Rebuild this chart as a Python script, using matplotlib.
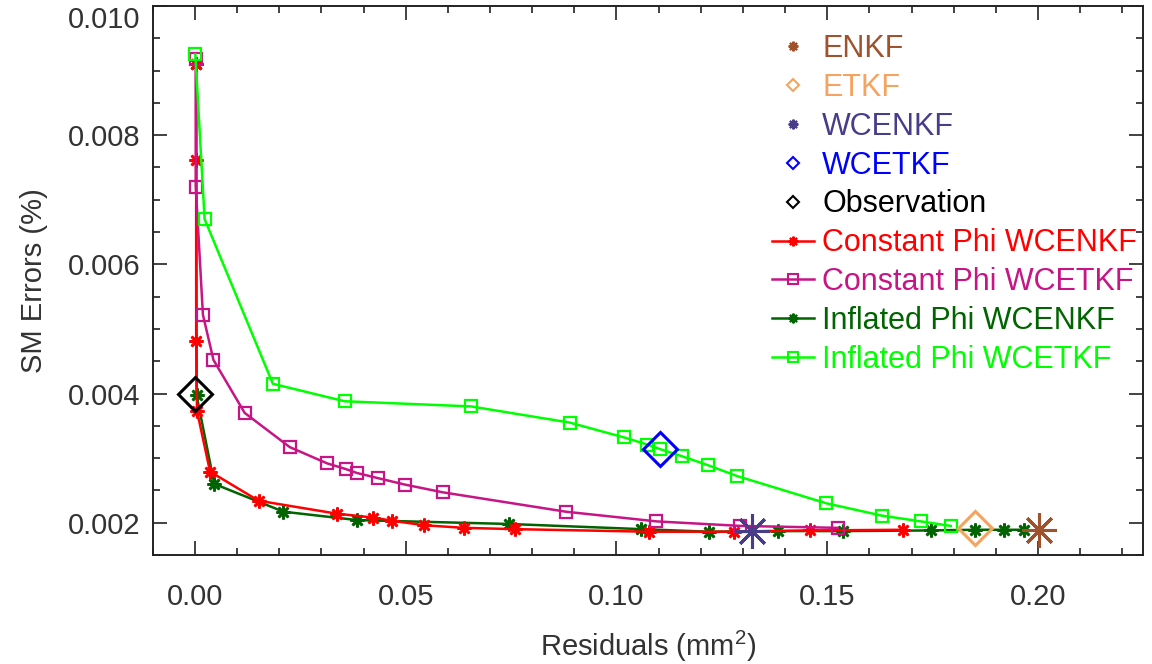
import matplotlib
matplotlib.use("Agg")
import matplotlib.pyplot as plt
from matplotlib.lines import Line2D
from matplotlib.ticker import MultipleLocator, FormatStrFormatter

plt.rcParams['font.family'] = ['Liberation Sans', 'DejaVu Sans']
plt.rcParams['mathtext.fontset'] = 'custom'
plt.rcParams['mathtext.rm'] = 'Liberation Sans'
plt.rcParams['mathtext.it'] = 'Liberation Sans:italic'

# Constant Phi WCENKF
cw_enkf_x = [0.0003, 0.0003, 0.0003, 0.0005, 0.0036, 0.0151, 0.0336, 0.0422, 0.0468,
             0.0544, 0.0638, 0.0759, 0.1077, 0.1278, 0.1460, 0.1679]
cw_enkf_y = [0.00910, 0.00762, 0.00482, 0.00373, 0.00279, 0.00234, 0.00214, 0.00208, 0.00203,
             0.00196, 0.00192, 0.00190, 0.00186, 0.00186, 0.00188, 0.00189]

# Constant Phi WCETKF
cw_etkf_x = [0.0002, 0.0002, 0.0019, 0.0044, 0.0118, 0.0225, 0.0313, 0.0358, 0.0384,
             0.0434, 0.0498, 0.0588, 0.0880, 0.1095, 0.1294, 0.1525]
cw_etkf_y = [0.00918, 0.00720, 0.00522, 0.00452, 0.00370, 0.00317, 0.00292, 0.00283, 0.00277,
             0.00269, 0.00259, 0.00247, 0.00217, 0.00202, 0.00195, 0.00192]

# Inflated Phi WCENKF
iw_enkf_x = [0.0003, 0.0004, 0.0046, 0.0210, 0.0385, 0.0745, 0.1059, 0.1219, 0.1383,
             0.1537, 0.1747, 0.1851, 0.1920, 0.1968]
iw_enkf_y = [0.00910, 0.00397, 0.00260, 0.00217, 0.00204, 0.00198, 0.00190, 0.00186, 0.00187,
             0.00187, 0.00188, 0.00189, 0.00189, 0.00189]

# Inflated Phi WCETKF
iw_etkf_x = [0.0001, 0.0023, 0.0185, 0.0355, 0.0655, 0.0889, 0.1018, 0.1073, 0.1103,
             0.1155, 0.1217, 0.1287, 0.1498, 0.1629, 0.1722, 0.1793]
iw_etkf_y = [0.00925, 0.00670, 0.00415, 0.00388, 0.00380, 0.00355, 0.00332, 0.00321, 0.00314,
             0.00303, 0.00289, 0.00272, 0.00230, 0.00211, 0.00202, 0.00195]

# single runs: (residual, error)
enkf = (0.2003, 0.00189)
etkf = (0.1851, 0.00191)
wcenkf = (0.1321, 0.00187)
wcetkf = (0.1104, 0.00314)
obs = (0.0, 0.0040)

c_enkf = '#A0522D'
c_etkf = '#F4A460'
c_wcenkf = '#483D8B'
c_wcetkf = '#0000FF'
c_obs = '#000000'
c_cw_enkf = '#FF0000'
c_cw_etkf = '#C71585'
c_iw_enkf = '#006400'
c_iw_etkf = '#00FF00'

star = (8, 2, 0)

fig = plt.figure(figsize=(11.52, 6.64), dpi=100)
ax = fig.add_axes([0.1326, 0.1642, 0.8599, 0.8268])

ax.plot(iw_enkf_x, iw_enkf_y, color=c_iw_enkf, lw=1.8, marker=star, ms=10, mew=1.9)
ax.plot(cw_enkf_x, cw_enkf_y, color=c_cw_enkf, lw=1.8, marker=star, ms=10, mew=1.9)
ax.plot(cw_etkf_x, cw_etkf_y, color=c_cw_etkf, lw=1.8, marker='s', ms=8, mew=1.6, mfc='none')
ax.plot(iw_etkf_x, iw_etkf_y, color=c_iw_etkf, lw=1.8, marker='s', ms=8, mew=1.6, mfc='none')

ax.plot(*enkf, ls='none', marker=star, ms=25, mew=2.2, color=c_enkf)
ax.plot(*etkf, ls='none', marker='D', ms=17, mew=2.2, mfc='none', color=c_etkf)
ax.plot(*wcenkf, ls='none', marker=star, ms=25, mew=2.2, color=c_wcenkf)
ax.plot(*wcetkf, ls='none', marker='D', ms=17, mew=2.2, mfc='none', color=c_wcetkf)
ax.plot(*obs, ls='none', marker='D', ms=17, mew=2.2, mfc='none', color=c_obs)

ax.set_xlim(-0.01, 0.225)
ax.set_ylim(0.0015, 0.010)
ax.xaxis.set_major_locator(MultipleLocator(0.05))
ax.xaxis.set_minor_locator(MultipleLocator(0.01))
ax.yaxis.set_major_locator(MultipleLocator(0.002))
ax.yaxis.set_minor_locator(MultipleLocator(0.0005))
ax.xaxis.set_major_formatter(FormatStrFormatter('%.2f'))
ax.yaxis.set_major_formatter(FormatStrFormatter('%.3f'))
ax.tick_params(which='both', direction='in', top=True, right=True, colors='#222222',
               labelsize=21, labelcolor='#333333')
ax.tick_params(which='major', length=10, width=1.2)
ax.tick_params(which='minor', length=5, width=1.2)
ax.tick_params(axis='x', pad=20)
ax.tick_params(axis='y', pad=9)
for s in ax.spines.values():
    s.set_color('#222222')
    s.set_linewidth(1.4)

ax.set_xlabel('Residuals (mm$^2$)', fontsize=21, color='#333333', labelpad=13)
ax.set_ylabel('SM Errors (%)', fontsize=21, color='#333333', labelpad=14)

handles = [
    Line2D([], [], ls='none', marker=star, ms=7, mew=1.5, color=c_enkf),
    Line2D([], [], ls='none', marker='D', ms=6, mew=1.5, mfc='none', color=c_etkf),
    Line2D([], [], ls='none', marker=star, ms=7, mew=1.5, color=c_wcenkf),
    Line2D([], [], ls='none', marker='D', ms=6, mew=1.5, mfc='none', color=c_wcetkf),
    Line2D([], [], ls='none', marker='D', ms=6, mew=1.5, mfc='none', color=c_obs),
    Line2D([], [], lw=1.8, marker=star, ms=7, mew=1.5, color=c_cw_enkf),
    Line2D([], [], lw=1.8, marker='s', ms=7, mew=1.5, mfc='none', color=c_cw_etkf),
    Line2D([], [], lw=1.8, marker=star, ms=7, mew=1.5, color=c_iw_enkf),
    Line2D([], [], lw=1.8, marker='s', ms=7, mew=1.5, mfc='none', color=c_iw_etkf),
]
labels = ['ENKF', 'ETKF', 'WCENKF', 'WCETKF', 'Observation', 'Constant Phi WCENKF',
          'Constant Phi WCETKF', 'Inflated Phi WCENKF', 'Inflated Phi WCETKF']
ax.legend(handles, labels, loc='upper left', bbox_to_anchor=(0.625, 0.949), frameon=False,
          fontsize=22, labelcolor='linecolor', handlelength=1.37, handletextpad=0.28,
          labelspacing=0.29, borderpad=0, borderaxespad=0)

# keep the top label inside the figure
fig.canvas.draw()
for lab in ax.get_yticklabels():
    if lab.get_text() == '0.010':
        lab.set_va('top')

fig.savefig('out.png', dpi=100)
